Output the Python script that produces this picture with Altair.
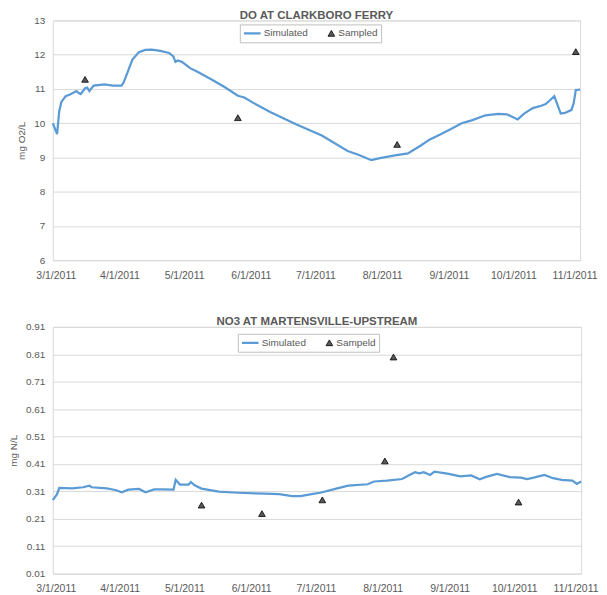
import altair as alt
import pandas as pd

# ---------------- data ----------------
do_sim_dates = ["2011-03-01", "2011-03-03", "2011-03-04", "2011-03-05", "2011-03-07", "2011-03-09",
                "2011-03-12", "2011-03-13", "2011-03-14", "2011-03-16", "2011-03-17", "2011-03-18",
                "2011-03-20", "2011-03-25", "2011-03-29", "2011-04-02", "2011-04-03", "2011-04-05",
                "2011-04-07", "2011-04-10", "2011-04-13", "2011-04-16", "2011-04-20", "2011-04-24",
                "2011-04-26", "2011-04-27", "2011-04-28", "2011-04-30", "2011-05-04", "2011-05-07",
                "2011-05-14", "2011-05-20", "2011-05-26", "2011-05-29", "2011-06-02", "2011-06-10",
                "2011-06-22", "2011-07-04", "2011-07-16", "2011-07-21", "2011-07-27", "2011-07-31",
                "2011-08-07", "2011-08-13", "2011-08-19", "2011-08-23", "2011-08-28", "2011-09-02",
                "2011-09-07", "2011-09-12", "2011-09-18", "2011-09-24", "2011-09-28", "2011-10-03",
                "2011-10-06", "2011-10-10", "2011-10-14", "2011-10-16", "2011-10-18", "2011-10-20",
                "2011-10-21", "2011-10-23", "2011-10-25", "2011-10-28", "2011-10-29", "2011-10-30",
                "2011-11-01"]
do_sim_values = [10.0, 9.68, 10.35, 10.62, 10.79, 10.84,
                 10.94, 10.88, 10.85, 11.02, 11.04, 10.94,
                 11.1, 11.13, 11.1, 11.1, 11.2, 11.53,
                 11.86, 12.07, 12.14, 12.15, 12.11, 12.05,
                 11.95, 11.79, 11.83, 11.79, 11.6, 11.51,
                 11.27, 11.05, 10.8, 10.75, 10.6, 10.33,
                 9.97, 9.64, 9.19, 9.08, 8.92, 8.98,
                 9.06, 9.12, 9.35, 9.52, 9.67, 9.83,
                 10.0, 10.09, 10.23, 10.27, 10.26, 10.11,
                 10.28, 10.44, 10.51, 10.56, 10.67, 10.79,
                 10.62, 10.28, 10.3, 10.39, 10.58, 10.97,
                 10.98]
do_obs_dates = ["2011-03-16", "2011-05-26", "2011-08-08", "2011-10-30"]
do_obs_values = [11.28, 10.16, 9.38, 12.09]

no3_sim_dates = ["2011-03-01", "2011-03-03", "2011-03-04", "2011-03-10", "2011-03-15", "2011-03-18",
                 "2011-03-19", "2011-03-26", "2011-03-30", "2011-04-02", "2011-04-05", "2011-04-10",
                 "2011-04-13", "2011-04-17", "2011-04-21", "2011-04-26", "2011-04-27", "2011-04-29",
                 "2011-05-03", "2011-05-04", "2011-05-06", "2011-05-09", "2011-05-17", "2011-05-26",
                 "2011-06-03", "2011-06-11", "2011-06-14", "2011-06-20", "2011-06-24", "2011-06-29",
                 "2011-07-03", "2011-07-10", "2011-07-16", "2011-07-25", "2011-07-28", "2011-08-03",
                 "2011-08-10", "2011-08-13", "2011-08-16", "2011-08-18", "2011-08-20", "2011-08-23",
                 "2011-08-25", "2011-08-31", "2011-09-06", "2011-09-11", "2011-09-15", "2011-09-18",
                 "2011-09-23", "2011-09-29", "2011-10-04", "2011-10-07", "2011-10-10", "2011-10-15",
                 "2011-10-19", "2011-10-23", "2011-10-28", "2011-10-30", "2011-11-01"]
no3_sim_values = [0.278, 0.300, 0.323, 0.321, 0.325, 0.331,
                  0.325, 0.321, 0.315, 0.307, 0.316, 0.319,
                  0.307, 0.317, 0.317, 0.316, 0.352, 0.335,
                  0.335, 0.344, 0.331, 0.320, 0.309, 0.305,
                  0.3025, 0.301, 0.300, 0.2925, 0.2925, 0.300,
                  0.305, 0.319, 0.331, 0.336, 0.346, 0.349,
                  0.355, 0.368, 0.380, 0.376, 0.380, 0.370,
                  0.382, 0.375, 0.365, 0.368, 0.354, 0.363,
                  0.374, 0.362, 0.360, 0.355, 0.360, 0.370,
                  0.358, 0.352, 0.349, 0.337, 0.346]
no3_obs_dates = ["2011-05-09", "2011-06-06", "2011-07-04", "2011-08-02", "2011-08-06", "2011-10-03"]
no3_obs_values = [0.26, 0.229, 0.279, 0.421, 0.80, 0.271]

month_ticks = [3, 4, 5, 6, 7, 8, 9, 10, 11]
do_ticks = [6, 7, 8, 9, 10, 11, 12, 13]
no3_ticks = [0.01, 0.11, 0.21, 0.31, 0.41, 0.51, 0.61, 0.71, 0.81, 0.91]

# ---------------- style ----------------
BLUE = "#5B9BD5"
TEXT = "#595959"
GRID = "#D9D9D9"
FONT = "Liberation Sans"

IND = dict(color="independent", stroke="independent", shape="independent",
           size="independent", strokeWidth="independent")


def panel(sim_dates, sim_vals, obs_dates, obs_vals, obs_label, title, ytitle,
          ydomain, yticks, yfmt, width, height, legend_x, legend_y):
    sim = pd.DataFrame({"date": sim_dates, "value": sim_vals})
    obs = pd.DataFrame({"date": obs_dates, "value": obs_vals, "series": obs_label})
    dom = ["Simulated", obs_label]

    x = alt.X(
        "date:T",
        scale=alt.Scale(
            type="utc",
            domain=[alt.DateTime(year=2011, month=3, date=1, utc=True),
                    alt.DateTime(year=2011, month=11, date=1, utc=True)],
        ),
        axis=alt.Axis(
            title=None,
            values=[alt.DateTime(year=2011, month=m, date=1, utc=True) for m in month_ticks],
            format="%-m/%-d/%Y",
            grid=False, domain=False, ticks=False,
            labelPadding=10, labelOverlap=False, labelFontSize=10.5,
            labelFlush=True, labelFlushOffset=17,
        ),
    )
    y = alt.Y(
        "value:Q",
        scale=alt.Scale(domain=ydomain, nice=False, zero=False),
        axis=alt.Axis(
            title=ytitle, values=yticks, format=yfmt,
            grid=True, gridColor=GRID, domain=False, ticks=False,
            labelPadding=8, titlePadding=7, labelFontSize=10,
        ),
    )

    leg = alt.Legend(
        title=None, orient="none", legendX=legend_x, legendY=legend_y,
        direction="horizontal", strokeColor="#BFBFBF", fillColor="white",
        padding=3, columnPadding=18, labelOffset=2, clipHeight=12,
        labelFontSize=10, labelColor=TEXT, labelFont=FONT,
    )

    line = alt.Chart(sim).mark_line(color=BLUE, strokeWidth=2.25).encode(x=x, y=y)
    pts = alt.Chart(obs).mark_point(filled=True, opacity=1).encode(
        x=x, y=y,
        color=alt.Color("series:N", scale=alt.Scale(domain=dom, range=[BLUE, "#595959"]), legend=leg),
        stroke=alt.Stroke("series:N", scale=alt.Scale(domain=dom, range=[BLUE, "#000000"]), legend=leg),
        shape=alt.Shape("series:N", scale=alt.Scale(domain=dom, range=["stroke", "triangle-up"]), legend=leg),
        size=alt.Size("series:N", scale=alt.Scale(domain=dom, range=[280, 45]), legend=leg),
        strokeWidth=alt.StrokeWidth("series:N", scale=alt.Scale(domain=dom, range=[2.25, 0.8]), legend=leg),
    )
    layered = alt.layer(line, pts).properties(
        width=width, height=height,
        title=alt.TitleParams(title, fontSize=11.5, fontWeight="bold", color=TEXT, font=FONT, offset=-6),
    )
    return alt.hconcat(layered).resolve_scale(**IND).resolve_legend(**IND)


top = panel(do_sim_dates, do_sim_values, do_obs_dates, do_obs_values, "Sampled",
            "DO AT CLARKBORO FERRY", "mg O2/L", [6, 13], do_ticks, "d", 530, 241, 188, 4)
bottom = panel(no3_sim_dates, no3_sim_values, no3_obs_dates, no3_obs_values, "Sampeld",
               "NO3 AT MARTENSVILLE-UPSTREAM", "mg N/L", [0.01, 0.91], no3_ticks, ".2f", 531, 248, 186, 7)

chart = alt.vconcat(top, bottom, spacing=35).resolve_scale(
    x="independent", y="independent", **IND
).resolve_legend(**IND).properties(
    padding=0,
).configure(
    font=FONT,
).configure_view(
    stroke=GRID,
).configure_axis(
    labelFont=FONT, titleFont=FONT, labelColor=TEXT, titleColor=TEXT,
    titleFontSize=10, titleFontWeight="normal",
)

chart.save("out.html", embed_options={"renderer": "svg", "actions": False})
